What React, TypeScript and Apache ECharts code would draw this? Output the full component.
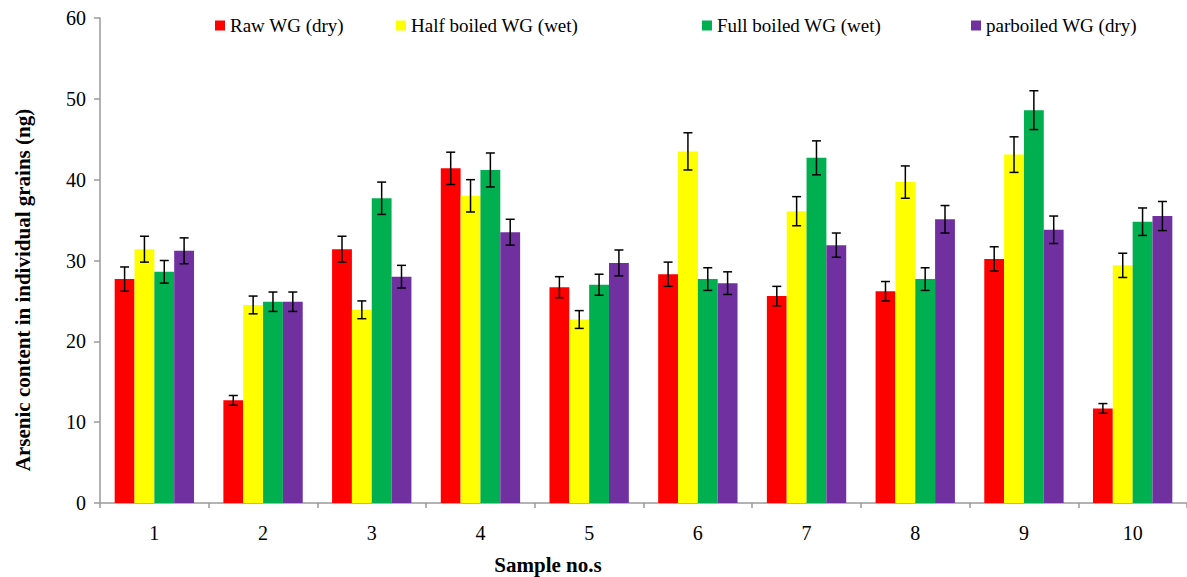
import React, { useEffect, useRef } from "react";
import * as echarts from "echarts";

const categories = ["1", "2", "3", "4", "5", "6", "7", "8", "9", "10"];
const seriesNames = ["Raw WG (dry)", "Half boiled WG (wet)", "Full boiled WG (wet)", "parboiled WG (dry)"];
const colors = ["#FF0000", "#FFFF00", "#00B050", "#7030A0"];

const rawWG = [27.7, 12.7, 31.4, 41.4, 26.7, 28.3, 25.6, 26.2, 30.2, 11.7];
const halfBoiled = [31.4, 24.5, 23.9, 38.0, 22.7, 43.5, 36.1, 39.7, 43.1, 29.4];
const fullBoiled = [28.6, 24.9, 37.7, 41.2, 27.0, 27.7, 42.7, 27.7, 48.6, 34.8];
const parboiled = [31.2, 24.9, 28.0, 33.5, 29.7, 27.2, 31.9, 35.1, 33.8, 35.5];

const rawErr = [1.5, 0.6, 1.6, 2.0, 1.3, 1.5, 1.2, 1.2, 1.5, 0.6];
const halfErr = [1.6, 1.1, 1.1, 2.0, 1.1, 2.3, 1.8, 2.0, 2.2, 1.5];
const fullErr = [1.4, 1.2, 2.0, 2.1, 1.3, 1.4, 2.1, 1.4, 2.4, 1.7];
const parErr = [1.6, 1.2, 1.4, 1.6, 1.6, 1.4, 1.5, 1.7, 1.7, 1.8];

const yTicks = [0, 10, 20, 30, 40, 50, 60];

const allValues = [rawWG, halfBoiled, fullBoiled, parboiled];
const allErrors = [rawErr, halfErr, fullErr, parErr];
const legendLefts = [210, 391, 697, 966];

const CAT_GAP = 0.27;

export default function App() {
  const ref = useRef<HTMLDivElement>(null);
  useEffect(() => {
    if (!ref.current) return;
    const chart = echarts.init(ref.current, null, { renderer: "svg" });
    const font = "'Liberation Serif', 'Times New Roman', serif";

    const barSeries = seriesNames.map((name, i) => ({
      name,
      type: "bar",
      data: allValues[i],
      barGap: "0%",
      barCategoryGap: CAT_GAP * 100 + "%",
      itemStyle: { color: colors[i] },
      z: 2,
    }));

    const errSeries = seriesNames.map((name, i) => ({
      name: name + " err",
      type: "custom",
      z: 5,
      data: allValues[i].map((v, k) => [k, v - allErrors[i][k], v + allErrors[i][k]]),
      encode: { x: 0, y: [1, 2] },
      renderItem: (params: any, api: any) => {
        const k = api.value(0);
        const lo = api.coord([k, api.value(1)]);
        const hi = api.coord([k, api.value(2)]);
        const band = api.size([1, 0])[0];
        const bw = (band * (1 - CAT_GAP)) / 4;
        const x = lo[0] + (i - 1.5) * bw;
        const cap = 4.5;
        const style = { stroke: "#000", lineWidth: 1.5 };
        return {
          type: "group",
          children: [
            { type: "line", shape: { x1: x, y1: lo[1], x2: x, y2: hi[1] }, style },
            { type: "line", shape: { x1: x - cap, y1: lo[1], x2: x + cap, y2: lo[1] }, style },
            { type: "line", shape: { x1: x - cap, y1: hi[1], x2: x + cap, y2: hi[1] }, style },
          ],
        };
      },
    }));

    chart.setOption({
      animation: false,
      backgroundColor: "#ffffff",
      textStyle: { fontFamily: font },
      legend: seriesNames.map((n, i) => ({
        data: [n],
        left: legendLefts[i],
        top: 11,
        icon: "rect",
        itemWidth: 10,
        itemHeight: 10,
        textStyle: { fontFamily: font, fontSize: 19, color: "#000" },
      })),
      grid: { left: 100, right: -14, top: 18, bottom: 74, containLabel: false },
      xAxis: {
        type: "category",
        data: categories,
        axisLine: { lineStyle: { color: "#9a9a9a", width: 1.5 } },
        axisTick: { show: true, length: 5, lineStyle: { color: "#9a9a9a", width: 1.5 } },
        axisLabel: { fontFamily: font, fontSize: 20, color: "#000", margin: 20 },
      },
      yAxis: {
        type: "value",
        min: 0,
        max: 60,
        interval: 10,
        axisLine: { show: true, lineStyle: { color: "#9a9a9a", width: 1.5 } },
        axisTick: { show: true, length: 6, lineStyle: { color: "#9a9a9a", width: 1.5 } },
        splitLine: { show: false },
        axisLabel: {
          fontFamily: font,
          fontSize: 20,
          color: "#000",
          margin: 14,
          formatter: (v: number) => (yTicks.includes(v) ? String(v) : ""),
        },
      },
      graphic: [
        {
          type: "text",
          x: 23,
          y: 290,
          rotation: Math.PI / 2,
          style: {
            text: "Arsenic content in individual grains (ng)",
            fontFamily: font,
            fontWeight: "bold",
            fontSize: 21,
            fill: "#000",
            textAlign: "center",
            textVerticalAlign: "middle",
          },
        },
        {
          type: "text",
          x: 548,
          y: 565,
          style: {
            text: "Sample no.s",
            fontFamily: font,
            fontWeight: "bold",
            fontSize: 21,
            fill: "#000",
            textAlign: "center",
            textVerticalAlign: "middle",
          },
        },
      ],
      series: [...barSeries, ...errSeries],
    });
    return () => chart.dispose();
  }, []);

  return (
    <div
      ref={ref}
      style={{ position: "absolute", left: 0, top: 0, width: 1187, height: 577 }}
    />
  );
}
